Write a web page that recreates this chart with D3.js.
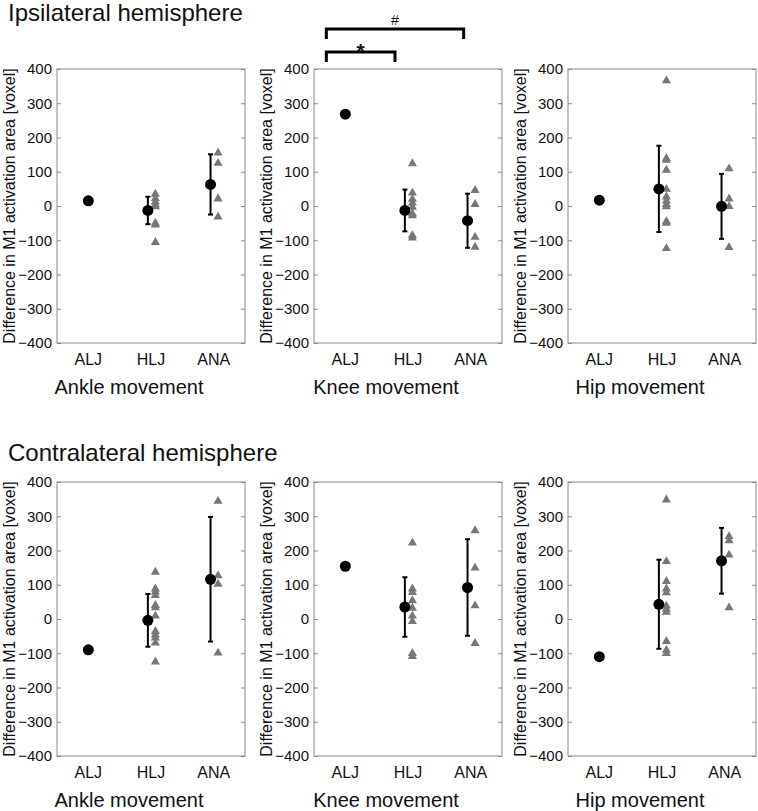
<!DOCTYPE html>
<html>
<head>
<meta charset="utf-8">
<script src="https://cdn.jsdelivr.net/npm/d3@7"></script>
<style>
  body { margin: 0; background: #fff; }
  text { font-family: "Liberation Sans", Arial, sans-serif; fill: #111; }
</style>
</head>
<body>
<script>
// categories and labels
var groups = ["ALJ", "HLJ", "ANA"];
var movements = ["Ankle movement", "Knee movement", "Hip movement"];
var hemispheres = ["Ipsilateral hemisphere", "Contralateral hemisphere"];
var yTicks = [-400, -300, -200, -100, 0, 100, 200, 300, 400];
var yLabel = "Difference in M1 activation area [voxel]";

// ipsilateral hemisphere (ankle, knee, hip)
var ipsiAlj = [15, 268, 17];
var ipsiHljMean = [-13, -13, 50];
var ipsiHljSd = [40, 61, 126];
var ipsiAnaMean = [63, -43, -1];
var ipsiAnaSd = [88, 79, 95];
var ipsiHljPoints = [
    [35, 22, 12, 3, -2, -50, -55, -106],
    [124, 38, 20, 9, -3, -22, -28, -86, -93],
    [366, 139, 134, 105, 49, 27, 15, 5, -2, -45, -50, -124]
];
var ipsiAnaPoints = [
    [155, 125, 21, -32],
    [46, 5, -91, -120],
    [109, 21, -1, -121]
];

// contralateral hemisphere (ankle, knee, hip)
var contraAlj = [-90, 154, -110];
var contraHljMean = [-4, 35, 43];
var contraHljSd = [77, 87, 130];
var contraAnaMean = [116, 92, 170];
var contraAnaSd = [182, 141, 96];
var contraHljPoints = [
    [137, 88, 79, 69, 40, 33, 9, -36, -46, -55, -70, -125],
    [222, 88, 78, 54, 32, 9, -7, -100, -109],
    [348, 168, 110, 88, 77, 38, 29, 20, -65, -91, -100]
];
var contraAnaPoints = [
    [344, 127, 102, -99],
    [258, 149, 39, -71],
    [241, 229, 187, 33]
];

// significance brackets (ipsilateral, knee)
var bracketFrom = [0, 0];
var bracketTo = [1, 2];
var bracketMarks = ["*", "#"];

var W = 758, H = 811;
var panelLeft = [57, 314, 568];
var rowTop = [69, 482];
var panelW = 188, panelH = 274;
var titleY = [21, 461];

var svg = d3.select("body").append("svg")
    .attr("width", W)
    .attr("height", H);

var rows = [
    { alj: ipsiAlj, hm: ipsiHljMean, hs: ipsiHljSd, am: ipsiAnaMean, as: ipsiAnaSd, hp: ipsiHljPoints, ap: ipsiAnaPoints },
    { alj: contraAlj, hm: contraHljMean, hs: contraHljSd, am: contraAnaMean, as: contraAnaSd, hp: contraHljPoints, ap: contraAnaPoints }
];

var fmt = function (d) {
    return d < 0 ? "\u2212" + Math.abs(d) : "" + d;
};

var meanShift = -0.05;
var ptShift = 0.07;
var tri = d3.symbol().type(d3.symbolTriangle).size(36);

for (var r = 0; r < 2; r++) {
    svg.append("text")
        .attr("x", 8)
        .attr("y", titleY[r])
        .attr("font-size", "24px")
        .text(hemispheres[r]);

    for (var c = 0; c < 3; c++) {
        var d = rows[r];
        var g = svg.append("g")
            .attr("transform", "translate(" + panelLeft[c] + "," + rowTop[r] + ")");

        var x = d3.scaleLinear().domain([0.5, 3.5]).range([0, panelW]);
        var y = d3.scaleLinear().domain([-400, 400]).range([panelH, 0]);

        g.append("rect")
            .attr("width", panelW)
            .attr("height", panelH)
            .attr("fill", "none")
            .attr("stroke", "#8a8a8a");

        var la = g.append("g")
            .call(d3.axisLeft(y).tickValues(yTicks).tickSizeInner(-4).tickSizeOuter(0).tickPadding(5).tickFormat(fmt));
        la.select(".domain").remove();
        la.selectAll("line").attr("stroke", "#8a8a8a");
        la.selectAll("text").attr("font-size", "15px").attr("font-family", null);

        var ra = g.append("g")
            .attr("transform", "translate(" + panelW + ",0)")
            .call(d3.axisRight(y).tickValues(yTicks).tickSizeInner(-4).tickSizeOuter(0).tickFormat(""));
        ra.select(".domain").remove();
        ra.selectAll("line").attr("stroke", "#8a8a8a");

        g.selectAll(".cat")
            .data(groups)
            .join("text")
            .attr("class", "cat")
            .attr("x", function (t, i) { return x(i + 1); })
            .attr("y", panelH + 22)
            .attr("text-anchor", "middle")
            .attr("font-size", "16px")
            .text(function (t) { return t; });

        g.append("text")
            .attr("transform", "translate(-42," + panelH / 2 + ") rotate(-90)")
            .attr("text-anchor", "middle")
            .attr("font-size", "16px")
            .text(yLabel);

        g.append("text")
            .attr("x", panelW / 2 - 22)
            .attr("y", panelH + 51)
            .attr("text-anchor", "middle")
            .attr("font-size", "20px")
            .text(movements[c]);

        // individual points
        var pts = [];
        d.hp[c].forEach(function (v) { pts.push({ g: 2, v: v }); });
        d.ap[c].forEach(function (v) { pts.push({ g: 3, v: v }); });
        g.selectAll(".pt")
            .data(pts)
            .join("path")
            .attr("class", "pt")
            .attr("d", tri)
            .attr("fill", "#777")
            .attr("transform", function (p) {
                return "translate(" + (x(p.g + ptShift)) + "," + y(p.v) + ")";
            });

        // mean +- sd
        var stats = [
            { g: 2, m: d.hm[c], s: d.hs[c] },
            { g: 3, m: d.am[c], s: d.as[c] }
        ];
        stats.forEach(function (s) {
            var xx = x(s.g + meanShift);
            g.append("line")
                .attr("x1", xx).attr("x2", xx)
                .attr("y1", y(s.m - s.s)).attr("y2", y(s.m + s.s))
                .attr("stroke", "#000").attr("stroke-width", 2);
            [s.m - s.s, s.m + s.s].forEach(function (e) {
                g.append("line")
                    .attr("x1", xx - 2.5).attr("x2", xx + 2.5)
                    .attr("y1", y(e)).attr("y2", y(e))
                    .attr("stroke", "#000").attr("stroke-width", 2);
            });
            g.append("circle")
                .attr("cx", xx).attr("cy", y(s.m))
                .attr("r", 5.5).attr("fill", "#000");
        });

        g.append("circle")
            .attr("cx", x(1)).attr("cy", y(d.alj[c]))
            .attr("r", 5.5).attr("fill", "#000");

        if (r == 0 && c == 1) {
            var bx = d3.scaleLinear().domain([1, 3]).range([x(1) - 19, x(3) - 7]);
            for (var k = 0; k < bracketMarks.length; k++) {
                var by = -17 - 23 * k;
                var x1 = bx(bracketFrom[k] + 1), x2 = bx(bracketTo[k] + 1);
                g.append("path")
                    .attr("d", "M" + x1 + "," + (by + 10) + "V" + by + "H" + x2 + "V" + (by + 10))
                    .attr("fill", "none")
                    .attr("stroke", "#000")
                    .attr("stroke-width", 3);
                var big = bracketMarks[k] == "*";
                g.append("text")
                    .attr("x", (x1 + x2) / 2)
                    .attr("y", big ? by + 6 : by - 4)
                    .attr("text-anchor", "middle")
                    .attr("font-size", big ? "21px" : "14px")
                    .attr("font-weight", big ? "bold" : "normal")
                    .text(bracketMarks[k]);
            }
        }
    }
}
</script>
</body>
</html>
